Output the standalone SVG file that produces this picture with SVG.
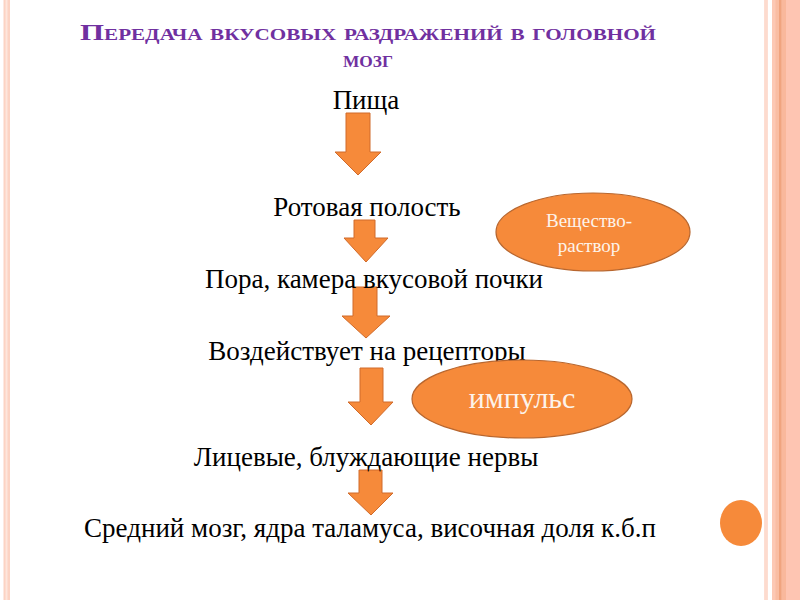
<svg xmlns="http://www.w3.org/2000/svg" width="800" height="600" viewBox="0 0 800 600">
<defs>
<style>
.t{font-family:"Liberation Serif","Times New Roman",serif;font-size:27px;fill:#000;text-anchor:middle}
.title{font-family:"Liberation Serif","Times New Roman",serif;font-size:23.5px;font-weight:bold;fill:#7030A0;text-anchor:middle;font-variant:small-caps}
.arrow{fill:#F68A3A;stroke:#D06A2A;stroke-width:1}
.ell{fill:#F68A3A;stroke:#B8662E;stroke-width:1.2}
.et{font-family:"Liberation Serif","Times New Roman",serif;fill:#FDF3EA;text-anchor:middle}
</style>
</defs>
<rect width="800" height="600" fill="#fff"/>
<g id="border">
<rect x="3.5" y="0" width="6.5" height="600" fill="#fcd3c3"/>
<rect x="5.5" y="0" width="2" height="600" fill="#fde6dc"/>
<rect x="764.3" y="0" width="3.4" height="600" fill="#fcd0c0"/>
<rect x="765.5" y="0" width="1" height="600" fill="#fde6dc"/>
<rect x="772" y="0" width="28" height="600" fill="#fec5b2"/>
<rect x="772" y="0" width="3.5" height="600" fill="#fcc8b4"/>
<rect x="775.5" y="0" width="3.5" height="600" fill="#f9bda3"/>
<rect x="779" y="0" width="2.7" height="600" fill="#f0a47f"/>
<rect x="781.7" y="0" width="4.3" height="600" fill="#f9b89c"/>
</g>
<g id="title">
<text class="title" x="368" y="40" textLength="576" lengthAdjust="spacingAndGlyphs">Передача вкусовых раздражений в головной</text>
<text class="title" x="368" y="67" textLength="50" lengthAdjust="spacingAndGlyphs">мозг</text>
</g>
<g id="connectors">
<polygon class="arrow" points="346,113 370,113 370,152 381,152 358,175 335,152 346,152"/>
<polygon class="arrow" points="354,220 375,220 375,238 388,238 366,262 344,238 354,238"/>
<polygon class="arrow" points="353,287 377,287 377,316 390,316 366,338 342,316 353,316"/>
<polygon class="arrow" points="360,368 383,368 383,402 393,402 371,425 348,402 360,402"/>
<polygon class="arrow" points="359,470 382,470 382,493 393,493 371,515 348,493 359,493"/>
</g>
<g id="n1"><text class="t" x="366" y="109">Пища</text></g>
<g id="n2"><text class="t" x="367" y="216">Ротовая полость</text></g>
<g id="n3"><text class="t" x="374" y="288">Пора, камера вкусовой почки</text></g>
<g id="n4"><text class="t" x="367" y="360">Воздействует на рецепторы</text></g>
<g id="n5"><text class="t" x="366" y="466">Лицевые, блуждающие нервы</text></g>
<g id="n6"><text class="t" x="370" y="537">Средний мозг, ядра таламуса, височная доля к.б.п</text></g>
<g id="e1">
<ellipse class="ell" cx="593" cy="232" rx="97" ry="39"/>
<text class="et" x="589" y="227" font-size="19">Вещество-</text>
<text class="et" x="589" y="252" font-size="19">раствор</text>
</g>
<g id="e2">
<ellipse class="ell" cx="522" cy="399" rx="110" ry="39"/>
<text class="et" x="522" y="408" font-size="30">импульс</text>
</g>
<g id="dot"><ellipse cx="741" cy="523" rx="21" ry="23" fill="#F68A3A"/></g>
</svg>
